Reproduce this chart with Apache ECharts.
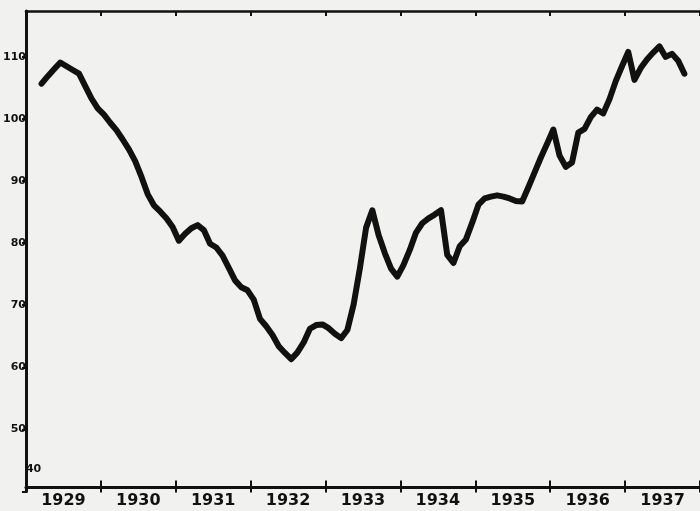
<!DOCTYPE html>
<html>
<head>
<meta charset="utf-8">
<script src="https://cdn.jsdelivr.net/npm/echarts@6/dist/echarts.min.js"></script>
<style>
html,body{margin:0;padding:0;background:#f1f1ef;}
#c{width:700px;height:511px;}
</style>
</head>
<body>
<div id="c"></div>
<script>
// Year categories (x axis labels)
const years = ['1929','1930','1931','1932','1933','1934','1935','1936','1937'];
// y-axis tick values
const yTicks = [40, 50, 60, 70, 80, 90, 100, 110];
// Monthly index values, Jan 1929 .. Dec 1937 (null = no data)
const values1929 = [null, null, 105.7, 106.9, 108.0, 109.1, 108.5, 107.9, 107.3, 105.3, 103.3, 101.7];
const values1930 = [100.7, 99.4, 98.2, 96.7, 95.1, 93.2, 90.7, 87.9, 86.1, 85.1, 84.0, 82.6];
const values1931 = [80.4, 81.5, 82.4, 82.9, 82.1, 79.9, 79.3, 78.0, 76.0, 74.0, 72.9, 72.4];
const values1932 = [70.9, 67.8, 66.6, 65.2, 63.4, 62.3, 61.3, 62.4, 64.0, 66.2, 66.8, 66.9];
const values1933 = [66.3, 65.4, 64.7, 66.0, 70.1, 75.9, 82.5, 85.3, 81.3, 78.4, 75.9, 74.6];
const values1934 = [76.5, 78.9, 81.7, 83.2, 84.0, 84.6, 85.3, 78.1, 76.8, 79.5, 80.6, 83.3];
const values1935 = [86.2, 87.2, 87.5, 87.7, 87.5, 87.2, 86.8, 86.7, 89.0, 91.4, 93.8, 96.0];
const values1936 = [98.3, 94.1, 92.3, 93.0, 97.8, 98.4, 100.3, 101.5, 100.9, 103.2, 106.1, 108.5];
const values1937 = [110.8, 106.3, 108.2, 109.6, 110.7, 111.7, 110.0, 110.5, 109.4, 107.3, null, null];

const values = [].concat(values1929, values1930, values1931, values1932, values1933,
                         values1934, values1935, values1936, values1937);
const months = [];
years.forEach(y => { for (let m = 1; m <= 12; m++) months.push(y + '-' + m); });

const ink = '#111';
const FONT = 'DejaVu Sans';
const yMin = yTicks[0], yMax = 117.4, yStep = yTicks[1] - yTicks[0];

const chart = echarts.init(document.getElementById('c'), null, {renderer: 'canvas'});
chart.setOption({
  backgroundColor: '#f1f1ef',
  animation: false,
  grid: {left: 24, top: 11, width: 678.6, height: 480.4, containLabel: false},
  xAxis: [
    {type: 'category', data: months, boundaryGap: true, show: false},
    {type: 'category', data: years, boundaryGap: true, position: 'bottom', offset: -4,
     axisLine: {show: true, lineStyle: {color: ink, width: 3}},
     axisTick: {show: true, inside: true, length: 7, interval: 0, lineStyle: {color: ink, width: 2}},
     axisLabel: {show: true, interval: 0, margin: 5, color: ink, fontFamily: FONT, fontWeight: 'bold', fontSize: 16}},
    {type: 'category', data: years, boundaryGap: true, position: 'bottom', offset: -4,
     axisLine: {show: false},
     axisTick: {show: true, inside: false, length: 5, interval: 0, lineStyle: {color: ink, width: 2}},
     axisLabel: {show: false}},
    {type: 'category', data: years, boundaryGap: true, position: 'top',
     axisLine: {show: true, lineStyle: {color: ink, width: 2.5}},
     axisTick: {show: true, inside: true, length: 5, interval: 0, lineStyle: {color: ink, width: 2}},
     axisLabel: {show: false}}
  ],
  yAxis: [
    {type: 'value', min: yMin, max: yMax, interval: yStep, position: 'left',
     splitLine: {show: false},
     axisLine: {show: true, lineStyle: {color: ink, width: 3}},
     axisTick: {show: true, length: 4, lineStyle: {color: ink, width: 2}},
     axisLabel: {show: true, showMaxLabel: false, margin: 0, color: ink, fontFamily: FONT,
       fontWeight: 'bold', fontSize: 11, padding: [0, 0, 6, 0],
       formatter: v => (yTicks.indexOf(v) > 0 ? String(v) : '')}},
    {type: 'value', min: yMin, max: yMax, interval: yStep, position: 'left',
     splitLine: {show: false}, axisLine: {show: false}, axisTick: {show: false},
     axisLabel: {show: true, inside: true, showMaxLabel: false, margin: 0, color: ink,
       formatter: v => (v === yTicks[0] ? '{a|' + v + '}' : ''),
       rich: {a: {fontFamily: FONT, fontWeight: 'bold', fontSize: 11, color: ink, padding: [0, 0, 44, 0]}}}}
  ],
  series: [{
    type: 'line', xAxisIndex: 0, yAxisIndex: 0, data: values,
    showSymbol: false, symbol: 'none', connectNulls: false,
    lineStyle: {color: ink, width: 6, cap: 'round', join: 'round'}
  }]
});
</script>
</body>
</html>
